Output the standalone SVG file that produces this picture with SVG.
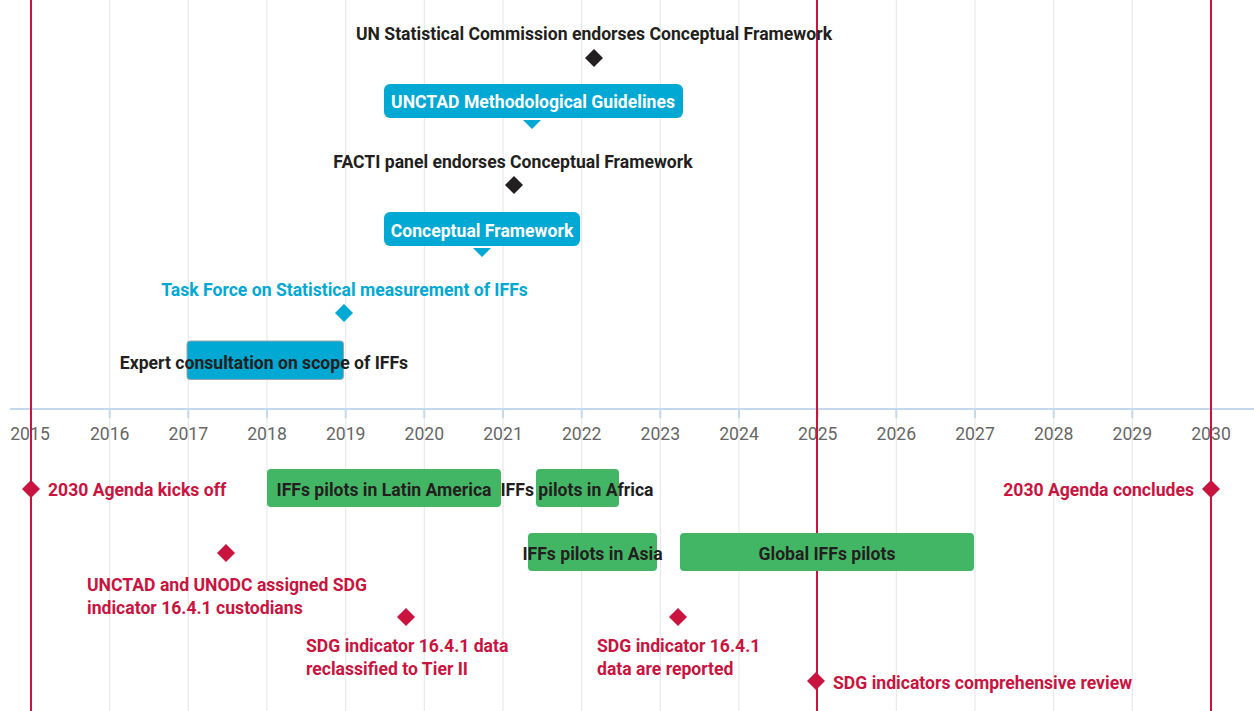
<svg xmlns="http://www.w3.org/2000/svg" width="1254" height="711" viewBox="0 0 1254 711">
<style>
text{font-family:Roboto,"Liberation Sans",sans-serif;font-size:17.6px}
.grid{stroke:#e4e4e4;stroke-width:1}
.red{stroke:#c8143f;stroke-width:2}
.axis{stroke:#c4d9ec;stroke-width:2}
.yr{fill:#666;text-anchor:middle}
.lb{font-weight:bold;fill:#231f20;text-anchor:middle}
.rl{font-weight:bold;fill:#c8143f}
.bl{font-weight:bold;fill:#00a8d4;text-anchor:middle}
.wt{font-weight:bold;fill:#fff;text-anchor:middle}
.green{fill:#43b665}
.blue{fill:#00a8d4}
.dm-r{fill:#c8143f}
.dm-k{fill:#231f20}
.dm-b{fill:#00a8d4}
</style>
<defs>
<path id="dm" d="M0,-9 L9,0 L0,9 L-9,0 Z"/>
</defs>
<rect width="1254" height="711" fill="#fff"/>
<g id="grid">
<line class="grid" x1="109.7" y1="0" x2="109.7" y2="711"/>
<line class="grid" x1="188.3" y1="0" x2="188.3" y2="711"/>
<line class="grid" x1="267" y1="0" x2="267" y2="711"/>
<line class="grid" x1="345.7" y1="0" x2="345.7" y2="711"/>
<line class="grid" x1="424.3" y1="0" x2="424.3" y2="711"/>
<line class="grid" x1="503" y1="0" x2="503" y2="711"/>
<line class="grid" x1="581.7" y1="0" x2="581.7" y2="711"/>
<line class="grid" x1="660.3" y1="0" x2="660.3" y2="711"/>
<line class="grid" x1="739" y1="0" x2="739" y2="711"/>
<line class="grid" x1="896.3" y1="0" x2="896.3" y2="711"/>
<line class="grid" x1="975" y1="0" x2="975" y2="711"/>
<line class="grid" x1="1053.7" y1="0" x2="1053.7" y2="711"/>
<line class="grid" x1="1132.3" y1="0" x2="1132.3" y2="711"/>
</g>
<g id="axis">
<line class="axis" x1="10" y1="409" x2="1254" y2="409"/>
<g class="axis">
<line x1="31" y1="409" x2="31" y2="418"/><line x1="109.7" y1="409" x2="109.7" y2="418"/>
<line x1="188.3" y1="409" x2="188.3" y2="418"/><line x1="267" y1="409" x2="267" y2="418"/>
<line x1="345.7" y1="409" x2="345.7" y2="418"/><line x1="424.3" y1="409" x2="424.3" y2="418"/>
<line x1="503" y1="409" x2="503" y2="418"/><line x1="581.7" y1="409" x2="581.7" y2="418"/>
<line x1="660.3" y1="409" x2="660.3" y2="418"/><line x1="739" y1="409" x2="739" y2="418"/>
<line x1="817.7" y1="409" x2="817.7" y2="418"/><line x1="896.3" y1="409" x2="896.3" y2="418"/>
<line x1="975" y1="409" x2="975" y2="418"/><line x1="1053.7" y1="409" x2="1053.7" y2="418"/>
<line x1="1132.3" y1="409" x2="1132.3" y2="418"/><line x1="1211" y1="409" x2="1211" y2="418"/>
</g>
<text class="yr" x="30" y="440">2015</text>
<text class="yr" x="109.7" y="440">2016</text>
<text class="yr" x="188.3" y="440">2017</text>
<text class="yr" x="267" y="440">2018</text>
<text class="yr" x="345.7" y="440">2019</text>
<text class="yr" x="424.3" y="440">2020</text>
<text class="yr" x="503" y="440">2021</text>
<text class="yr" x="581.7" y="440">2022</text>
<text class="yr" x="660.3" y="440">2023</text>
<text class="yr" x="739" y="440">2024</text>
<text class="yr" x="817.7" y="440">2025</text>
<text class="yr" x="896.3" y="440">2026</text>
<text class="yr" x="975" y="440">2027</text>
<text class="yr" x="1053.7" y="440">2028</text>
<text class="yr" x="1132.3" y="440">2029</text>
<text class="yr" x="1211" y="440">2030</text>
</g>
<g id="milestone-lines">
<line class="red" x1="31" y1="0" x2="31" y2="711"/>
<line class="red" x1="817" y1="0" x2="817" y2="711"/>
<line class="red" x1="1211" y1="0" x2="1211" y2="711"/>
</g>
<g id="un-stat-commission">
<text class="lb" x="594" y="39.5">UN Statistical Commission endorses Conceptual Framework</text>
<use href="#dm" class="dm-k" x="594" y="58"/>
</g>
<g id="unctad-guidelines">
<rect class="blue" x="384" y="84" width="299" height="34" rx="6"/>
<path class="blue" d="M523,120 L541,120 L532,129 Z"/>
<text class="wt" x="533" y="107.5">UNCTAD Methodological Guidelines</text>
</g>
<g id="facti">
<text class="lb" x="513" y="167.5">FACTI panel endorses Conceptual Framework</text>
<use href="#dm" class="dm-k" x="514" y="185"/>
</g>
<g id="conceptual-framework">
<rect class="blue" x="384" y="212" width="196" height="34" rx="6"/>
<path class="blue" d="M473,248 L491,248 L482,257 Z"/>
<text class="wt" x="482" y="236.5">Conceptual Framework</text>
</g>
<g id="task-force">
<text class="bl" x="344.5" y="295.5">Task Force on Statistical measurement of IFFs</text>
<use href="#dm" class="dm-b" x="344" y="313"/>
</g>
<g id="expert-consultation">
<rect class="blue" x="187" y="341" width="156.5" height="38.5" rx="3" stroke="#9aa6ad" stroke-width="1"/>
<text class="lb" x="264" y="368.5">Expert consultation on scope of IFFs</text>
</g>
<g id="agenda-kicks-off">
<use href="#dm" class="dm-r" x="31" y="489"/>
<text class="rl" x="48" y="496">2030 Agenda kicks off</text>
</g>
<g id="pilots-latam">
<rect class="green" x="267" y="469" width="234" height="38" rx="4"/>
<text class="lb" x="384" y="496">IFFs pilots in Latin America</text>
</g>
<g id="pilots-africa">
<rect class="green" x="536" y="469" width="83" height="38" rx="4"/>
<text class="lb" x="577" y="496">IFFs pilots in Africa</text>
</g>
<g id="agenda-concludes">
<use href="#dm" class="dm-r" x="1211" y="489"/>
<text class="rl" x="1194" y="496" text-anchor="end">2030 Agenda concludes</text>
</g>
<g id="custodians">
<use href="#dm" class="dm-r" x="226" y="553"/>
<text class="rl" x="87" y="590.5">UNCTAD and UNODC assigned SDG</text>
<text class="rl" x="87" y="613.5">indicator 16.4.1 custodians</text>
</g>
<g id="pilots-asia">
<rect class="green" x="528" y="533" width="129" height="38" rx="4"/>
<text class="lb" x="592.5" y="560">IFFs pilots in Asia</text>
</g>
<g id="global-pilots">
<rect class="green" x="680" y="533" width="294" height="38" rx="4"/>
<text class="lb" x="827" y="560">Global IFFs pilots</text>
</g>
<g id="tier-ii">
<use href="#dm" class="dm-r" x="406" y="617"/>
<text class="rl" x="306" y="651.5">SDG indicator 16.4.1 data</text>
<text class="rl" x="306" y="674.5">reclassified to Tier II</text>
</g>
<g id="data-reported">
<use href="#dm" class="dm-r" x="678" y="617"/>
<text class="rl" x="597" y="651.5">SDG indicator 16.4.1</text>
<text class="rl" x="597" y="674.5">data are reported</text>
</g>
<g id="comprehensive-review">
<use href="#dm" class="dm-r" x="816" y="681"/>
<text class="rl" x="833" y="688.5">SDG indicators comprehensive review</text>
</g>
</svg>
